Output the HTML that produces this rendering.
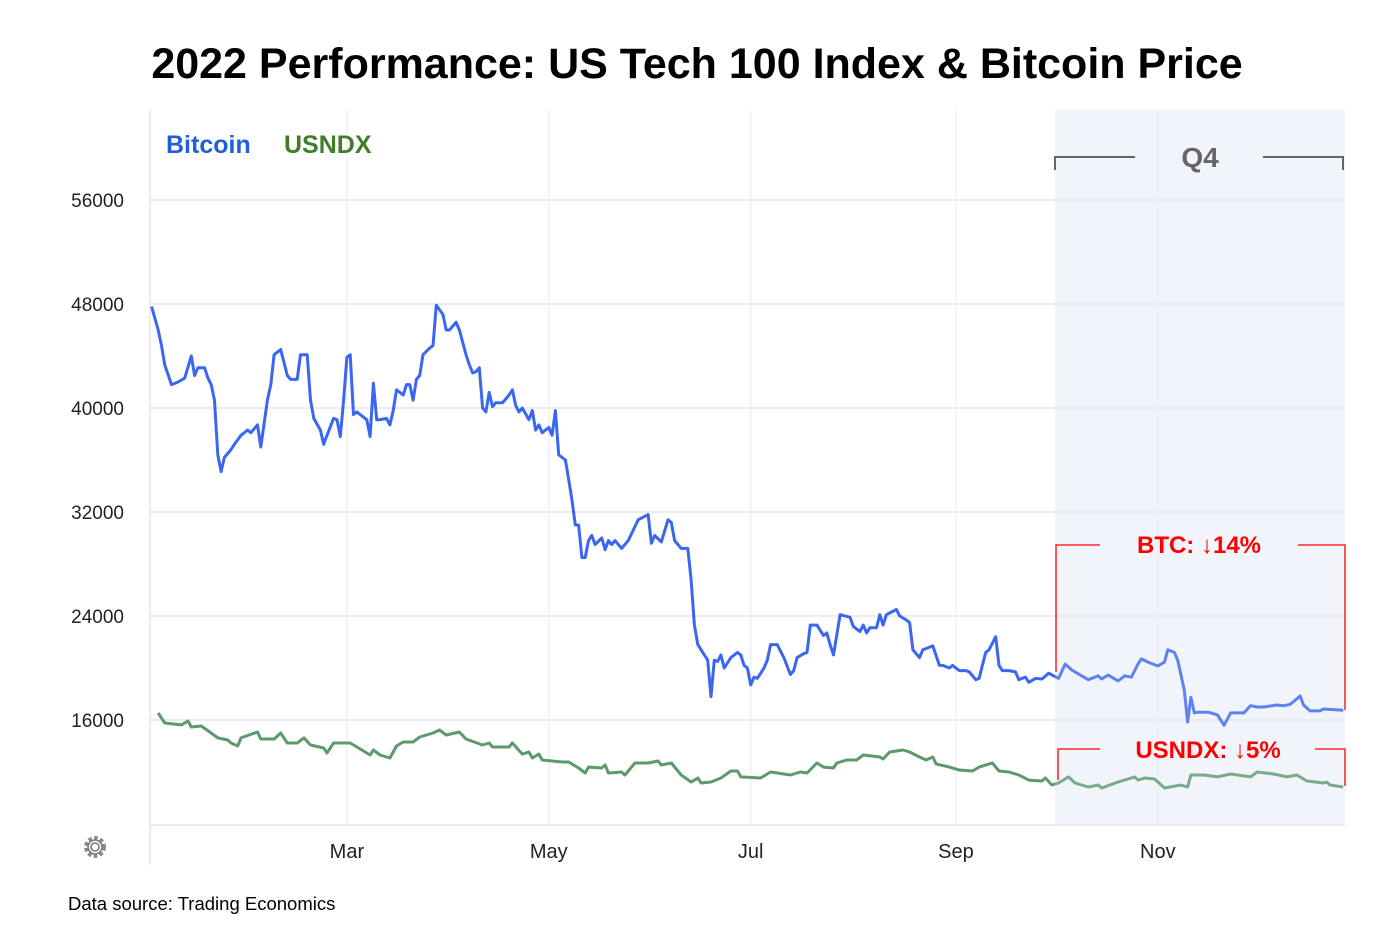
<!DOCTYPE html>
<html><head><meta charset="utf-8"><style>
body{margin:0;background:#fff;font-family:"Liberation Sans",Arial,sans-serif;}
svg text{font-family:"Liberation Sans",Arial,sans-serif;}
</style></head><body>
<svg id="chart" width="1378" height="946" viewBox="0 0 1378 946">
<text x="697" y="78" text-anchor="middle" font-size="43" font-weight="bold" fill="#000">2022 Performance: US Tech 100 Index &amp; Bitcoin Price</text>
<rect x="1055" y="110" width="290" height="715" fill="#f7f9fd"/>
<g id="grid"></g>
<g id="lines"></g>
<rect x="1055" y="110" width="290" height="715" fill="rgba(225,233,246,0.22)"/>
<text x="166" y="153" font-size="25" font-weight="bold" fill="#1f5fd8">Bitcoin</text>
<text x="284" y="153" font-size="25" font-weight="bold" fill="#3f7d2a">USNDX</text>
<g stroke="#666" stroke-width="2" fill="none">
<path d="M1055 170 V157 H1135 M1263 157 H1343 V170"/>
</g>
<text x="1200" y="167" text-anchor="middle" font-size="28" font-weight="bold" fill="#666">Q4</text>
<g stroke="#f00" stroke-width="1.3" fill="none">
<path d="M1056 672 V545 H1100 M1298 545 H1345 V710"/>
</g>
<text x="1199" y="553" text-anchor="middle" font-size="24" font-weight="bold" fill="#f00">BTC: ↓14%</text>
<g stroke="#f00" stroke-width="1.3" fill="none">
<path d="M1058 780 V749 H1100 M1315 749 H1345 V786"/>
</g>
<text x="1208" y="758" text-anchor="middle" font-size="24" font-weight="bold" fill="#f00">USNDX: ↓5%</text>
<g transform="translate(95,847)" fill="none" stroke="#777" stroke-width="1.6">
<circle r="4"/><circle r="9" stroke-dasharray="3.5 2.4" stroke-width="4" stroke="#888"/><circle r="7"/>
</g>
<text x="68" y="910" font-size="18.5" fill="#000">Data source: Trading Economics</text>
</svg>
<script>
const yTicks=[16000,24000,32000,40000,48000,56000];
const monthLabels=["Mar","May","Jul","Sep","Nov"];
const monthDays=[59,120,181,243,304];
const btcDays=[0,2,3,4,6,8,10,12,13,14,16,17,18,19,20,21,22,24,25,27,29,30,32,33,35,36,37,39,41,42,44,45,47,48,49,51,52,53,55,56,57,58,59,60,61,62,65,66,67,68,69,71,72,73,74,76,77,78,79,80,81,82,84,85,86,88,89,90,92,93,95,96,97,98,99,100,101,102,103,104,106,108,109,110,111,112,114,115,116,117,118,120,121,122,123,125,126,127,128,129,130,131,132,133,134,136,137,138,139,140,141,142,144,147,150,151,152,154,156,157,158,160,162,163,164,165,167,168,169,170,171,172,173,175,177,178,179,180,181,182,183,185,186,187,189,191,193,194,195,197,198,199,201,203,204,205,206,208,211,212,214,215,216,217,219,220,221,222,225,226,228,229,230,232,233,234,236,238,239,241,242,244,246,247,249,250,252,253,255,256,257,259,261,262,264,265,267,269,271,274,276,278,280,283,286,287,289,292,294,296,298,299,301,304,306,307,309,310,312,313,314,315,316,319,320,322,324,326,330,332,334,336,340,342,344,347,348,350,353,354,360];
const btcValues=[47800,46000,44800,43300,41800,42000,42300,44000,42500,43100,43100,42300,41800,40600,36400,35100,36200,36800,37200,37900,38300,38100,38700,37000,40600,41800,44100,44500,42500,42200,42200,44100,44100,40600,39200,38300,37200,37900,39200,39100,37800,40600,43900,44100,39500,39700,39100,37800,41900,39100,39100,39200,38700,39800,41400,41000,41800,41800,40600,42200,42500,44100,44600,44800,47900,47200,46000,46000,46600,46000,44100,43300,42700,42800,43100,40000,39700,41200,40100,40400,40400,41000,41400,40200,39700,40000,39100,39800,38300,38700,38100,38500,37900,39800,36400,36000,34500,32900,31000,31000,28500,28500,29800,30200,29500,30000,29100,29800,29500,29800,29500,29200,29800,31400,31800,29600,30200,29700,31400,31200,29800,29200,29200,26800,23300,21800,21000,20600,17800,20600,20500,21000,20000,20800,21200,21000,20200,20000,18700,19300,19200,20000,20600,21800,21800,20800,19500,19800,20800,21100,21200,23300,23300,22500,22700,21800,21000,24100,23900,23200,22800,23300,22700,23100,23100,24100,23300,24100,24500,24000,23700,23500,21400,20800,21400,21500,21700,20200,20200,20000,20200,19800,19800,19700,19100,19200,21200,21400,22400,20200,19800,19800,19700,19100,19300,18900,19200,19150,19600,19200,20300,19850,19550,19100,19400,19150,19450,19000,19400,19300,20300,20700,20450,20150,20450,21400,21200,20600,18300,15850,17750,16550,16600,16600,16550,16400,15600,16550,16550,17100,17000,17000,17150,17100,17200,17850,17150,16700,16700,16850,16750];
const ndxDays=[2,4,9,11,12,15,20,23,24,26,27,32,33,37,39,41,44,46,48,52,53,55,58,60,66,67,69,72,74,76,79,81,85,87,89,93,95,100,102,103,108,109,112,114,115,117,118,124,126,129,131,132,136,137,138,142,143,146,150,153,154,157,160,163,165,166,169,172,175,177,178,184,187,193,196,198,201,203,206,207,210,213,215,220,221,223,227,229,232,234,236,237,241,244,248,250,254,256,259,262,265,269,270,272,274,277,279,283,286,287,292,297,298,300,303,306,311,313,314,318,322,326,332,334,339,343,346,349,354,355,356,360];
const ndxValues=[16540,15770,15620,15920,15460,15540,14620,14460,14230,14000,14620,15080,14540,14540,15000,14230,14230,14620,14080,13850,13460,14230,14230,14230,13310,13690,13310,13080,14000,14310,14310,14690,15000,15230,14850,15080,14540,14080,14230,13920,13920,14230,13380,13540,13080,13380,12920,12770,12770,12310,11920,12380,12310,12540,11920,12000,11770,12690,12690,12850,12540,12690,11770,11230,11540,11150,11230,11540,12080,12080,11620,11540,12000,11770,12000,11920,12690,12380,12310,12690,12920,12920,13310,13150,13000,13540,13690,13540,13150,12920,13150,12620,12380,12150,12080,12380,12690,12080,12000,11770,11380,11310,11540,11000,11150,11620,11150,10850,11000,10770,11230,11620,11380,11540,11460,10770,11000,10850,11770,11770,11620,11850,11620,12000,11850,11620,11770,11310,11150,11230,11000,10850];

const NS="http://www.w3.org/2000/svg";
const X0=151.6, PXD=3.31, PLOT_L=150, PLOT_R=1345, PLOT_T=110, PLOT_B=825;
function xScale(d){return X0+d*PXD;}
function yScale(v){return 928-v*13/1000;}
function mk(tag,attrs,parent){const e=document.createElementNS(NS,tag);for(const k in attrs)e.setAttribute(k,attrs[k]);parent.appendChild(e);return e;}
const grid=document.getElementById('grid');
const lines=document.getElementById('lines');
yTicks.forEach(v=>{
  const y=yScale(v);
  const l=mk('line',{x1:PLOT_L,x2:PLOT_R,y1:y,y2:y,stroke:'#e6e6e6','stroke-width':1.5},grid);
  
  
  const t=mk('text',{x:124,y:y+7,'text-anchor':'end','font-size':19,fill:'#222'},grid);
  t.textContent=v;
  
  
});
const bl=mk('line',{x1:PLOT_L,x2:PLOT_R,y1:PLOT_B,y2:PLOT_B,stroke:'#e6e6e6','stroke-width':1.5},grid);


const la=mk('line',{x1:PLOT_L,x2:PLOT_L,y1:PLOT_T,y2:865,stroke:'#e6e6e6','stroke-width':1.5},grid);


monthDays.forEach((d,i)=>{
  const x=xScale(d);
  const l=mk('line',{x1:x,x2:x,y1:PLOT_T,y2:PLOT_B,stroke:'#eef0f3','stroke-width':1.5},grid);
  
  
  const t=mk('text',{x:x,y:858,'text-anchor':'middle','font-size':20,fill:'#222'},grid);
  t.textContent=monthLabels[i];
  
  
});
function path(days,vals){return days.map((d,i)=>(i?'L':'M')+xScale(d).toFixed(1)+' '+yScale(vals[i]).toFixed(1)).join(' ');}
const pn=mk('path',{d:path(ndxDays,ndxValues),fill:'none',stroke:'#5d9a6b','stroke-width':3,'stroke-linejoin':'round'},lines);


const pb=mk('path',{d:path(btcDays,btcValues),fill:'none',stroke:'#3a66f0','stroke-width':3,'stroke-linejoin':'round'},lines);


</script>
</body></html>
